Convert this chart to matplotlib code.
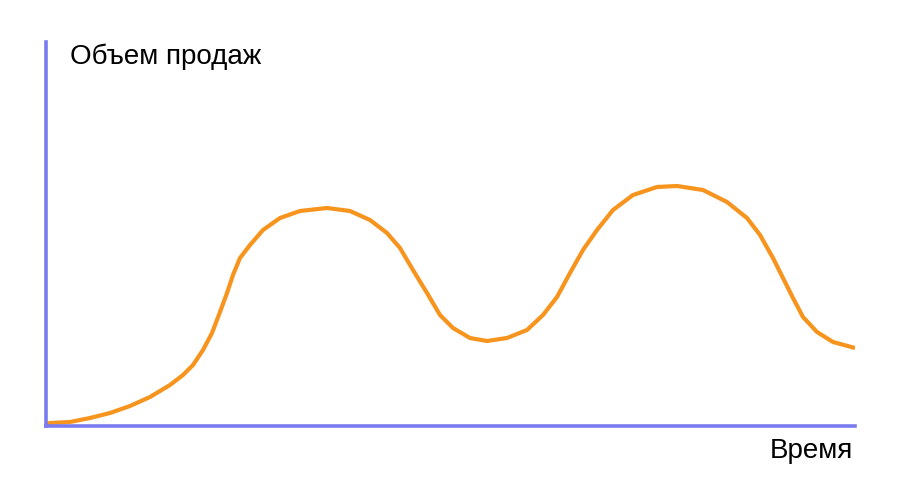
import matplotlib
matplotlib.use("Agg")
import matplotlib.pyplot as plt

# time (px from origin) and sales volume
t = [1, 4, 24, 44, 64, 84, 104, 124, 137, 147, 157, 166, 174, 181, 187, 194,
     204, 217, 234, 254, 281, 304, 324, 341, 354, 367, 381, 394, 407, 424,
     441, 461, 481, 497, 511, 524, 537, 551, 567, 587, 611, 631, 657, 681,
     701, 714, 727, 737, 747, 757, 771, 787, 809]
sales = [2, 3, 4, 8, 13, 20, 29, 41, 51, 61, 76, 93, 114, 133, 151, 168,
         181, 196, 208, 215, 218, 215, 206, 193, 178, 156, 133, 111, 98, 88,
         85, 88, 96, 111, 129, 153, 176, 196, 216, 231, 239, 240, 236, 224,
         208, 191, 168, 148, 128, 109, 94, 84, 78]

y_label = "Объем продаж"
x_label = "Время"

W, H = 909, 482
fig = plt.figure(figsize=(W / 100, H / 100), dpi=100)
ax = fig.add_axes([46 / W, (H - 426) / H, (855 - 46) / W, (426 - 42) / H])

ax.plot(t, sales, color="#F7941D", linewidth=3.0, solid_capstyle="butt",
        solid_joinstyle="round")

ax.set_xlim(0, 809)
ax.set_ylim(0, 384)
for side in ["top", "right"]:
    ax.spines[side].set_visible(False)
for side in ["left", "bottom"]:
    ax.spines[side].set_color("#7B7BF0")
    ax.spines[side].set_linewidth(2.6)
ax.set_xticks([])
ax.set_yticks([])

fig.text(70 / W, 1 - 57 / H, y_label, fontsize=20, family="Liberation Sans",
         ha="left", va="center")
fig.text(853 / W, 1 - 451 / H, x_label, fontsize=20, family="Liberation Sans",
         ha="right", va="center")

fig.savefig("out.png", dpi=100)
